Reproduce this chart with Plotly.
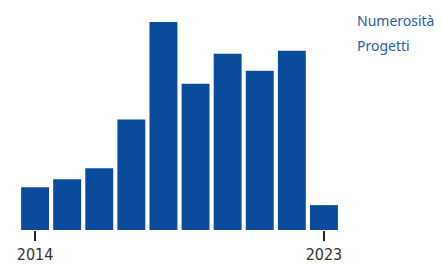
import plotly.graph_objects as go

years = [2014, 2015, 2016, 2017, 2018, 2019, 2020, 2021, 2022, 2023]
numerosita = [43, 51, 62, 111, 209, 147, 177, 160, 180, 25]
tick_years = [2014, 2023]
legend_lines = ["Numerosità", "Progetti"]

BAR = "#0a4b9b"
OFF = 8  # default page body margin
W, H = 442 - OFF, 264 - OFF
ml, mr, mt, mb = 19 - OFF, 102, 22 - OFF, 34
ph = H - mt - mb
pw = W - ml - mr

fig = go.Figure(go.Bar(x=years, y=numerosita, marker=dict(color=BAR, line=dict(width=0)),
                       showlegend=False, hoverinfo="x+y"))

def py(p):
    return (H - mb - (p - OFF)) / ph

def px(p):
    return (p - OFF - ml) / pw

anns = []
for txt, yy in zip(legend_lines, [20, 45]):
    anns.append(dict(text=txt, xref="paper", yref="paper", x=px(355), y=py(yy),
                     xanchor="left", yanchor="middle", showarrow=False,
                     font=dict(family="Noto Sans", size=14, color="#2a5ca6")))

fig.update_layout(
    width=W, height=H,
    margin=dict(l=ml, r=mr, t=mt, b=mb, pad=0),
    paper_bgcolor="white", plot_bgcolor="white",
    bargap=0.13,
    xaxis=dict(range=[2013.5, 2023.5], tickvals=tick_years, ticktext=[str(t) for t in tick_years],
               ticks="outside", ticklen=10, tickwidth=1.5, tickcolor="#222",
               automargin=False,
               showgrid=False, zeroline=False, showline=False,
               tickfont=dict(family="DejaVu Sans Condensed", size=16, color="#333")),
    yaxis=dict(range=[0, max(numerosita)], visible=False, showgrid=False, zeroline=False),
    annotations=anns,
)

fig.write_html("out.html")
